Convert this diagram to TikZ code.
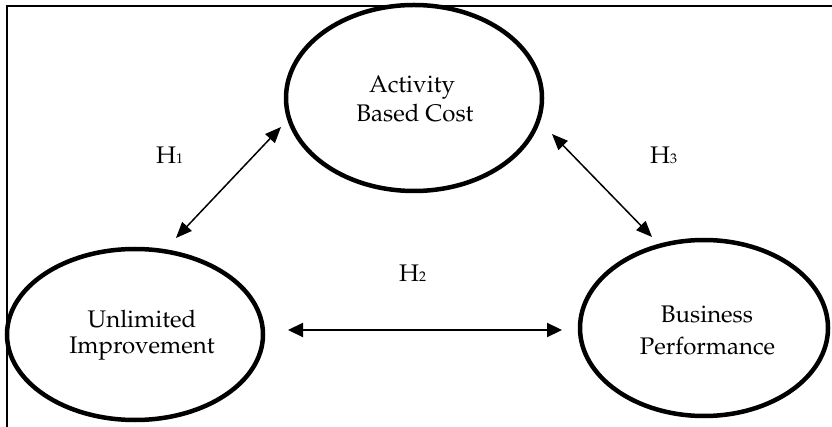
\documentclass[tikz,border=0pt]{standalone}
\usepackage[T1]{fontenc}
\usepackage{mathpazo}
\usetikzlibrary{shapes.geometric,arrows.meta}
\tikzset{
  oval/.style={draw, ellipse, line width=4.5pt, inner sep=0pt},
  txt/.style={anchor=base, inner sep=0pt, font=\fontsize{24}{28}\selectfont},
  hlab/.style={anchor=base west, inner sep=0pt, font=\fontsize{24}{28}\selectfont},
  thinarr/.style={line width=1.5pt, {Triangle[length=16pt,width=13pt]}-{Triangle[length=16pt,width=13pt]}},
  thickarr/.style={line width=2.2pt, {Triangle[length=15pt,width=14pt]}-{Triangle[length=15pt,width=14pt]}},
  frame/.style={line width=2pt}
}
\newcommand{\smalldigit}[1]{{\fontsize{14}{14}\selectfont #1}}
\begin{document}
\begin{tikzpicture}[x=1pt,y=-1pt]
\useasboundingbox (0,0) rectangle (832,427);
\clip (0,0) rectangle (832,427);
% frame (top and left sides visible)
\coordinate (fbl) at (7,440);
\coordinate (ftl) at (7,6);
\coordinate (ftr) at (845,6);
\draw[frame] (fbl) -- (ftl) -- (ftr);
% ellipses
\node[oval, minimum width=256pt, minimum height=186pt] (abc) at (414,98) {};
\node[oval, minimum width=256pt, minimum height=171pt] (ui) at (135,334.5) {};
\node[oval, minimum width=248pt, minimum height=176pt] (bp) at (704,328) {};
% texts
\node[txt] (abc1) at (412,93) {Activity};
\node[txt] (abc2) at (415,122) {Based Cost};
\node[txt] (ui1) at (142,327) {Unlimited};
\node[txt] (ui2) at (142,353) {Improvement};
\node[txt] (bp1) at (707,323) {Business};
\node[txt] (bp2) at (707.5,354) {Performance};
% hypothesis labels
\node[hlab] (h1) at (156,164) {H\smalldigit{1}};
\node[hlab] (h2) at (399,282) {H\smalldigit{2}};
\node[hlab] (h3) at (650,164) {H\smalldigit{3}};
% arrow end points
\coordinate (h1a) at (281,127);
\coordinate (h1b) at (176,238);
\coordinate (h2a) at (288,330);
\coordinate (h2b) at (562,330);
\coordinate (h3a) at (552,134);
\coordinate (h3b) at (652,237);
\draw[thinarr] (h1b) -- (h1a);
\draw[thickarr] (h2a) -- (h2b);
\draw[thinarr] (h3a) -- (h3b);
\end{tikzpicture}
\end{document}
